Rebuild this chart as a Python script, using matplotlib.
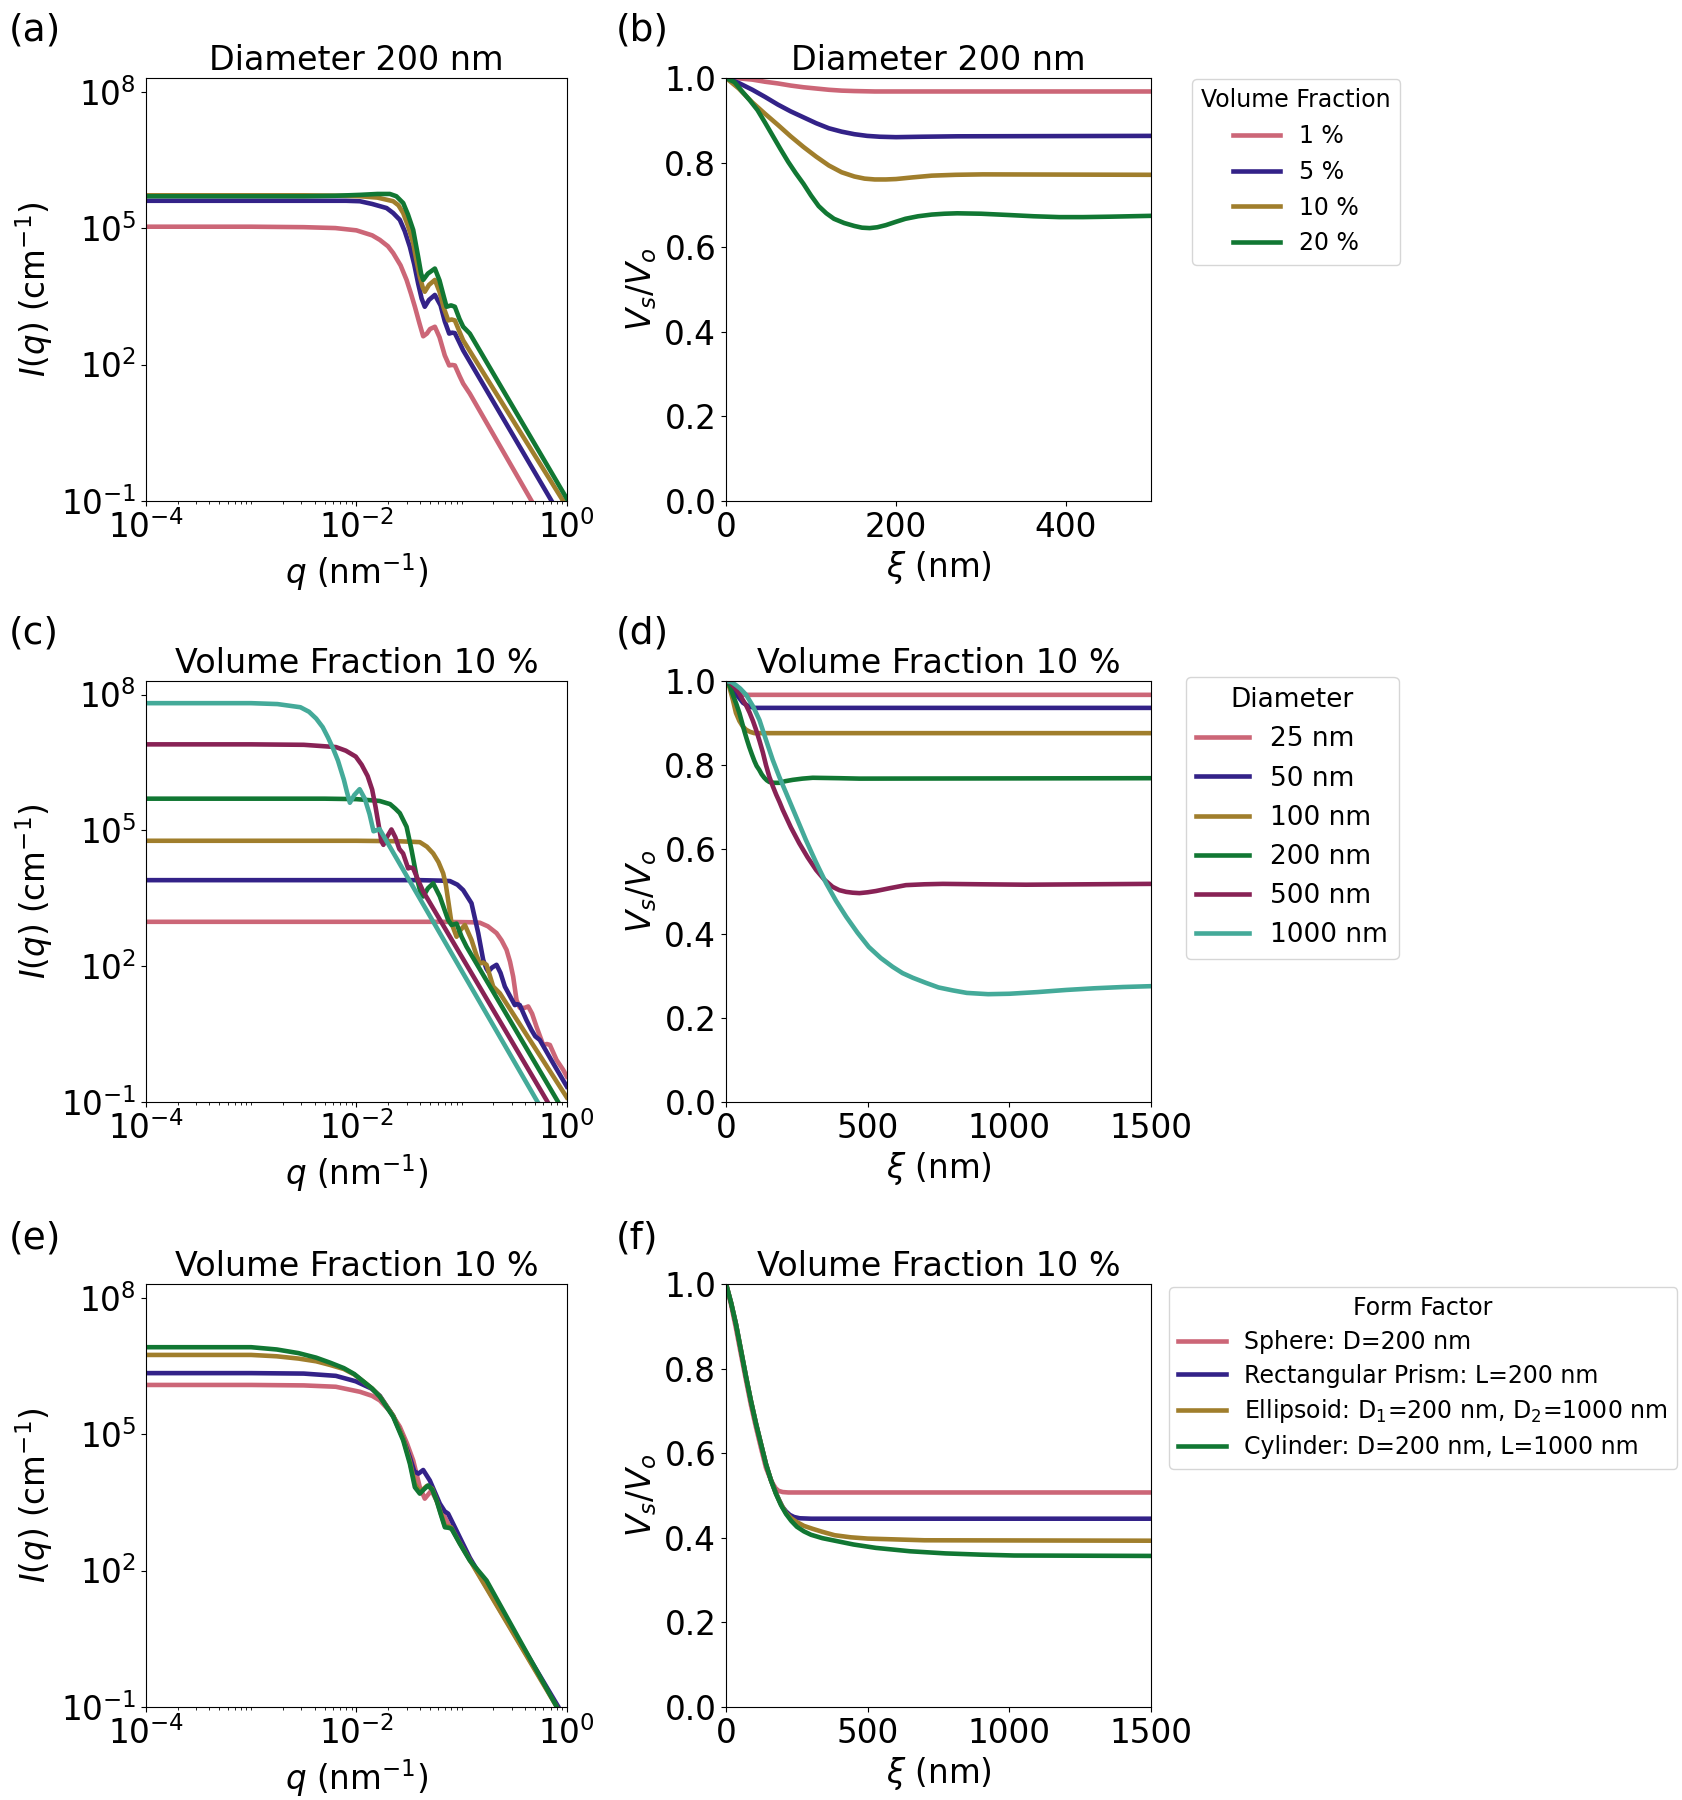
import matplotlib
matplotlib.use('Agg')
import matplotlib.pyplot as plt
import matplotlib.ticker as mticker
import numpy as np

plt.rcParams['font.family'] = 'DejaVu Sans'
plt.rcParams['font.size'] = 23.5

c_pink = '#CC6677'
c_blue = '#332288'
c_gold = '#A07E2C'
c_green = '#117733'
c_wine = '#882255'
c_teal = '#44AA99'

# ---- (a) I(q), diameter 200 nm, values as log10(q), log10(I)
a_pink_q = [-4.0, -3.0, -2.5, -2.2, -2.0, -1.85, -1.777, -1.7, -1.65, -1.58, -1.523, -1.48, -1.444, -1.40, -1.365, -1.33, -1.30, -1.254, -1.21, -1.16, -1.118, -1.09, -1.064, -1.02, -0.985, -0.922, -0.335, -0.25]
a_pink_I = [5.03, 5.03, 5.02, 5.0, 4.95, 4.84, 4.74, 4.60, 4.45, 4.18, 3.86, 3.55, 3.27, 2.9, 2.62, 2.68, 2.78, 2.83, 2.6, 2.2, 1.98, 1.99, 1.98, 1.75, 1.58, 1.36, -1.0, -1.35]
a_blue_q = [-4.0, -2.5, -2.1, -1.967, -1.85, -1.713, -1.65, -1.587, -1.54, -1.492, -1.45, -1.413, -1.38, -1.35, -1.31, -1.254, -1.2, -1.16, -1.118, -1.09, -1.064, -1.02, -0.985, -0.145, -0.1]
a_blue_I = [5.6, 5.6, 5.6, 5.59, 5.53, 5.44, 5.33, 5.18, 4.93, 4.59, 4.2, 3.78, 3.45, 3.27, 3.42, 3.53, 3.3, 2.95, 2.68, 2.7, 2.69, 2.48, 2.31, -1.0, -1.18]
a_gold_q = [-4.0, -2.5, -2.1, -1.967, -1.8, -1.65, -1.6, -1.555, -1.51, -1.46, -1.43, -1.397, -1.37, -1.35, -1.31, -1.254, -1.21, -1.17, -1.127, -1.095, -1.064, -1.02, -0.985, -0.035, 0.0]
a_gold_I = [5.72, 5.72, 5.71, 5.70, 5.67, 5.59, 5.5, 5.33, 5.05, 4.67, 4.3, 3.93, 3.7, 3.60, 3.75, 3.86, 3.6, 3.25, 2.97, 2.99, 2.97, 2.72, 2.53, -1.0, -1.14]
a_green_q = [-4.0, -2.5, -2.2, -1.967, -1.8, -1.682, -1.62, -1.555, -1.51, -1.46, -1.413, -1.385, -1.365, -1.32, -1.254, -1.21, -1.17, -1.143, -1.1, -1.064, -1.02, -0.985, -0.922, 0.0]
a_green_I = [5.70, 5.70, 5.71, 5.73, 5.75, 5.75, 5.70, 5.55, 5.3, 4.96, 4.37, 4.0, 3.86, 4.0, 4.11, 3.85, 3.5, 3.27, 3.3, 3.27, 3.0, 2.83, 2.68, -0.95]

# ---- (b) Vs/Vo vs xi (nm)
b_pink_x = [0, 15, 31, 46, 61, 76, 91, 106, 121, 136, 151, 175, 200, 500]
b_pink_y = [1.0, 0.999, 0.996, 0.991, 0.987, 0.982, 0.978, 0.975, 0.972, 0.970, 0.969, 0.968, 0.968, 0.968]
b_blue_x = [0, 15, 31, 46, 61, 76, 91, 106, 121, 136, 151, 166, 181, 200, 230, 272, 500]
b_blue_y = [1.0, 0.988, 0.972, 0.955, 0.937, 0.921, 0.907, 0.893, 0.881, 0.873, 0.867, 0.863, 0.861, 0.860, 0.861, 0.862, 0.863]
b_gold_x = [0, 15, 31, 46, 61, 76, 91, 106, 121, 136, 151, 163, 175, 188, 200, 220, 242, 270, 302, 500]
b_gold_y = [1.0, 0.975, 0.942, 0.915, 0.889, 0.862, 0.837, 0.814, 0.793, 0.777, 0.767, 0.762, 0.760, 0.760, 0.761, 0.765, 0.769, 0.771, 0.772, 0.771]
b_green_x = [0, 10, 19, 28, 37, 46, 55, 64, 73, 82, 91, 100, 109, 118, 127, 139, 151, 160, 169, 178, 188, 200, 211, 226, 242, 257, 272, 300, 332, 362, 392, 420, 452, 500]
b_green_y = [1.0, 0.99, 0.968, 0.947, 0.924, 0.894, 0.863, 0.832, 0.802, 0.775, 0.750, 0.722, 0.697, 0.680, 0.667, 0.657, 0.650, 0.646, 0.645, 0.647, 0.652, 0.660, 0.667, 0.673, 0.677, 0.679, 0.680, 0.679, 0.676, 0.673, 0.671, 0.671, 0.672, 0.674]
vf_labels = ['1 %', '5 %', '10 %', '20 %']

# ---- (c) I(q), volume fraction 10 %
c_pink_q = [-4.0, -3.0, -2.0, -1.2, -0.9, -0.827, -0.75, -0.668, -0.62, -0.573, -0.54, -0.51, -0.478, -0.447, -0.40, -0.367, -0.33, -0.288, -0.225, -0.19, -0.161, -0.098, -0.035, 0.0]
c_pink_I = [2.98, 2.98, 2.98, 2.98, 2.97, 2.96, 2.88, 2.73, 2.57, 2.36, 2.1, 1.77, 1.25, 1.08, 1.08, 1.11, 0.95, 0.66, 0.26, 0.28, 0.26, -0.07, -0.29, -0.44]
c_blue_q = [-4.0, -3.0, -2.0, -1.4, -1.2, -1.111, -1.04, -0.985, -0.906, -0.842, -0.795, -0.765, -0.747, -0.71, -0.668, -0.63, -0.589, -0.494, -0.47, -0.447, -0.384, -0.336, -0.30, -0.257, -0.13, 0.0]
c_blue_I = [3.90, 3.90, 3.90, 3.90, 3.89, 3.88, 3.8, 3.68, 3.39, 2.73, 2.14, 1.95, 1.88, 1.97, 2.03, 1.85, 1.55, 1.14, 1.16, 1.14, 0.81, 0.59, 0.45, 0.37, -0.145, -0.66]
c_gold_q = [-4.0, -3.0, -2.0, -1.6, -1.397, -1.33, -1.27, -1.22, -1.175, -1.15, -1.128, -1.096, -1.048, -1.01, -0.969, -0.906, -0.86, -0.827, -0.795, -0.763, -0.70, -0.636, 0.0]
c_gold_I = [4.77, 4.77, 4.77, 4.76, 4.74, 4.64, 4.49, 4.3, 4.05, 3.8, 3.46, 2.95, 2.65, 2.8, 2.91, 2.58, 2.25, 2.06, 2.08, 2.03, 1.55, 1.40, -0.9]
c_green_q = [-4.0, -3.0, -2.3, -2.0, -1.78, -1.68, -1.63, -1.587, -1.523, -1.476, -1.428, -1.39, -1.365, -1.32, -1.27, -1.207, -1.128, -1.096, -1.048, -1.0, -0.953, -0.07]
c_green_I = [5.70, 5.70, 5.70, 5.69, 5.65, 5.58, 5.48, 5.38, 5.08, 4.57, 3.98, 3.62, 3.54, 3.72, 3.83, 3.54, 3.02, 2.91, 2.94, 2.65, 2.43, -1.05]
c_wine_q = [-4.0, -3.0, -2.5, -2.194, -2.1, -2.006, -1.95, -1.893, -1.85, -1.818, -1.762, -1.743, -1.71, -1.667, -1.63, -1.592, -1.556, -1.508, -1.485, -1.46, -1.413, -1.365, -0.193, -0.12]
c_wine_I = [6.90, 6.90, 6.89, 6.84, 6.76, 6.63, 6.45, 6.20, 5.9, 5.52, 4.76, 4.68, 4.85, 5.02, 4.85, 4.59, 4.49, 4.16, 4.18, 4.16, 3.90, 3.65, -0.96, -1.25]
c_teal_q = [-4.0, -3.0, -2.75, -2.532, -2.45, -2.382, -2.32, -2.269, -2.22, -2.175, -2.119, -2.09, -2.062, -2.02, -1.969, -1.92, -1.875, -1.837, -1.81, -1.78, -1.71, -0.288, -0.2]
c_teal_I = [7.81, 7.81, 7.79, 7.72, 7.62, 7.47, 7.28, 7.05, 6.8, 6.54, 6.12, 5.85, 5.61, 5.78, 5.91, 5.7, 5.36, 4.98, 5.0, 5.03, 4.75, -0.96, -1.3]

# ---- (d) Vs/Vo vs xi, volume fraction 10 %
d_pink_x = [0, 10, 20, 30, 40, 1500]
d_pink_y = [1.0, 0.99, 0.978, 0.969, 0.967, 0.967]
d_blue_x = [0, 20, 40, 60, 80, 100, 1500]
d_blue_y = [1.0, 0.985, 0.965, 0.948, 0.94, 0.936, 0.936]
d_gold_x = [0, 12, 24, 35, 47, 59, 71, 85, 100, 1500]
d_gold_y = [1.0, 0.985, 0.955, 0.924, 0.905, 0.892, 0.884, 0.879, 0.876, 0.876]
d_green_x = [0, 12, 25, 36, 47, 56, 65, 73, 82, 91, 100, 108, 117, 126, 135, 144, 153, 170, 188, 210, 235, 270, 306, 400, 471, 1500]
d_green_y = [1.0, 0.99, 0.965, 0.946, 0.924, 0.902, 0.88, 0.862, 0.843, 0.826, 0.81, 0.798, 0.789, 0.778, 0.77, 0.764, 0.760, 0.758, 0.758, 0.762, 0.765, 0.768, 0.770, 0.769, 0.768, 0.769]
d_wine_x = [0, 15, 30, 45, 59, 71, 83, 95, 106, 118, 130, 141, 153, 165, 177, 189, 200, 229, 258, 288, 318, 347, 376, 400, 424, 447, 471, 500, 529, 580, 635, 700, 765, 900, 1059, 1500]
d_wine_y = [1.0, 0.996, 0.985, 0.972, 0.955, 0.942, 0.925, 0.905, 0.884, 0.858, 0.83, 0.80, 0.772, 0.75, 0.73, 0.712, 0.694, 0.652, 0.615, 0.581, 0.551, 0.528, 0.511, 0.503, 0.499, 0.497, 0.496, 0.498, 0.501, 0.508, 0.515, 0.517, 0.518, 0.517, 0.516, 0.518]
d_teal_x = [0, 20, 35, 50, 71, 95, 118, 140, 165, 188, 212, 247, 282, 317, 353, 388, 424, 464, 504, 546, 588, 623, 659, 705, 750, 800, 850, 925, 1000, 1100, 1200, 1300, 1400, 1500]
d_teal_y = [1.0, 0.997, 0.99, 0.982, 0.967, 0.94, 0.907, 0.862, 0.812, 0.772, 0.734, 0.678, 0.622, 0.570, 0.520, 0.478, 0.44, 0.402, 0.368, 0.342, 0.321, 0.306, 0.295, 0.283, 0.272, 0.265, 0.259, 0.256, 0.257, 0.261, 0.266, 0.270, 0.273, 0.275]
diam_labels = ['25 nm', '50 nm', '100 nm', '200 nm', '500 nm', '1000 nm']

# ---- (e) I(q), form factors
e_pink_q = [-4.0, -3.0, -2.5, -2.195, -1.967, -1.85, -1.777, -1.68, -1.587, -1.52, -1.46, -1.397, -1.35, -1.286, -1.207, -1.112, -1.048, -0.922, -0.09, -0.05]
e_pink_I = [6.08, 6.08, 6.07, 6.04, 5.93, 5.84, 5.74, 5.5, 5.16, 4.8, 4.42, 3.83, 3.58, 3.76, 3.39, 2.95, 2.81, 2.25, -1.0, -1.2]
e_blue_q = [-4.0, -3.0, -2.5, -2.195, -2.006, -1.856, -1.777, -1.65, -1.555, -1.492, -1.45, -1.41, -1.365, -1.302, -1.207, -1.16, -1.128, -1.064, -0.922, -0.08, -0.04]
e_blue_I = [6.34, 6.34, 6.33, 6.28, 6.16, 6.0, 5.84, 5.4, 4.9, 4.49, 4.18, 4.13, 4.21, 3.98, 3.47, 3.3, 3.25, 2.95, 2.28, -1.0, -1.2]
e_gold_q = [-4.0, -3.0, -2.757, -2.55, -2.382, -2.25, -2.119, -2.02, -1.93, -1.85, -1.777, -1.65, -1.555, -1.492, -1.444, -1.397, -1.33, -1.28, -1.238, -1.159, -1.1, -1.017, -0.922, -0.095, -0.05]
e_gold_I = [6.74, 6.74, 6.71, 6.66, 6.60, 6.52, 6.43, 6.31, 6.15, 6.0, 5.83, 5.4, 4.9, 4.4, 3.9, 3.72, 3.86, 3.8, 3.55, 2.98, 2.95, 2.6, 2.23, -1.0, -1.2]
e_green_q = [-4.0, -3.0, -2.757, -2.55, -2.382, -2.25, -2.119, -2.02, -1.93, -1.85, -1.777, -1.65, -1.555, -1.492, -1.444, -1.397, -1.36, -1.318, -1.28, -1.238, -1.2, -1.159, -1.125, -1.096, -1.017, -0.922, -0.763, -0.095, -0.05]
e_green_I = [6.91, 6.91, 6.86, 6.78, 6.68, 6.57, 6.45, 6.32, 6.15, 6.0, 5.82, 5.38, 4.86, 4.35, 3.83, 3.69, 3.78, 3.87, 3.78, 3.54, 3.25, 2.95, 2.94, 2.92, 2.59, 2.22, 1.78, -1.0, -1.2]

# ---- (f) Vs/Vo vs xi, form factors
f_pink_x = [0, 18, 35, 53, 71, 88, 106, 124, 141, 153, 165, 175, 185, 200, 220, 1500]
f_pink_y = [1.0, 0.95, 0.895, 0.832, 0.77, 0.713, 0.66, 0.61, 0.565, 0.545, 0.528, 0.517, 0.511, 0.508, 0.507, 0.507]
f_blue_x = [0, 18, 35, 53, 71, 88, 106, 124, 141, 159, 176, 188, 200, 212, 225, 240, 260, 300, 1500]
f_blue_y = [1.0, 0.955, 0.905, 0.842, 0.779, 0.723, 0.669, 0.62, 0.574, 0.535, 0.506, 0.488, 0.472, 0.462, 0.454, 0.449, 0.446, 0.445, 0.445]
f_gold_x = [0, 18, 35, 53, 71, 88, 106, 124, 141, 159, 176, 194, 212, 230, 250, 275, 306, 340, 383, 440, 500, 600, 700, 1500]
f_gold_y = [1.0, 0.955, 0.905, 0.842, 0.779, 0.723, 0.669, 0.62, 0.574, 0.535, 0.505, 0.479, 0.458, 0.446, 0.437, 0.428, 0.421, 0.414, 0.406, 0.401, 0.398, 0.396, 0.394, 0.393]
f_green_x = [0, 18, 35, 53, 71, 88, 106, 124, 141, 159, 176, 194, 212, 230, 250, 275, 300, 340, 384, 450, 529, 650, 774, 900, 1017, 1500]
f_green_y = [1.0, 0.955, 0.905, 0.842, 0.779, 0.723, 0.669, 0.62, 0.574, 0.535, 0.504, 0.477, 0.456, 0.44, 0.426, 0.415, 0.407, 0.399, 0.393, 0.384, 0.376, 0.368, 0.363, 0.36, 0.358, 0.357]
ff_labels = ['Sphere: D=200 nm', 'Rectangular Prism: L=200 nm',
             'Ellipsoid: D$_1$=200 nm, D$_2$=1000 nm', 'Cylinder: D=200 nm, L=1000 nm']

lw = 3.3
fig = plt.figure(figsize=(16.83, 18), dpi=100)

# axes boxes [left, bottom, width, height]
lx, lw_ax = 0.0867, 0.2501
rx, rw_ax = 0.4314, 0.2525
rows = [(0.7217, 0.2350), (0.3878, 0.2339), (0.0517, 0.2350)]


def iq_axes(box, title):
    ax = fig.add_axes(box)
    ax.set_xscale('log')
    ax.set_yscale('log')
    ax.set_xlim(1e-4, 1)
    ax.set_ylim(1e-1, 2e8)
    ax.set_xticks([1e-4, 1e-2, 1e0])
    ax.xaxis.set_minor_locator(mticker.LogLocator(base=10, subs=np.arange(1, 10), numticks=50))
    ax.xaxis.set_minor_formatter(mticker.NullFormatter())
    ax.set_yticks([1e-1, 1e2, 1e5, 1e8])
    ax.yaxis.set_minor_locator(mticker.NullLocator())
    ax.set_title(title, fontsize=24)
    ax.set_xlabel(r'$q$ (nm$^{-1}$)')
    ax.set_ylabel(r'$I(q)$ (cm$^{-1}$)')
    return ax


def v_axes(box, title, xmax, xticks):
    ax = fig.add_axes(box)
    ax.set_xlim(0, xmax)
    ax.set_ylim(0, 1)
    ax.set_xticks(xticks)
    ax.set_yticks([0.0, 0.2, 0.4, 0.6, 0.8, 1.0])
    ax.set_title(title, fontsize=24)
    ax.set_xlabel(r'$\xi$ (nm)')
    ax.set_ylabel(r'$V_s/V_o$')
    return ax


def logplot(ax, q, I, color):
    ax.plot(10.0 ** np.array(q), 10.0 ** np.array(I), color=color, lw=lw)


# (a)
ax = iq_axes([lx, rows[0][0], lw_ax, rows[0][1]], 'Diameter 200 nm')
logplot(ax, a_pink_q, a_pink_I, c_pink)
logplot(ax, a_blue_q, a_blue_I, c_blue)
logplot(ax, a_gold_q, a_gold_I, c_gold)
logplot(ax, a_green_q, a_green_I, c_green)

# (b)
ax = v_axes([rx, rows[0][0], rw_ax, rows[0][1]], 'Diameter 200 nm', 500, [0, 200, 400])
for x, y, c, lab in zip([b_pink_x, b_blue_x, b_gold_x, b_green_x],
                        [b_pink_y, b_blue_y, b_gold_y, b_green_y],
                        [c_pink, c_blue, c_gold, c_green], vf_labels):
    ax.plot(x, y, color=c, lw=lw, label=lab)
ax.legend(title='Volume Fraction', fontsize=17, title_fontsize=17,
          loc='upper left', bbox_to_anchor=(1.096, 0.998), borderaxespad=0)

# (c)
ax = iq_axes([lx, rows[1][0], lw_ax, rows[1][1]], 'Volume Fraction 10 %')
logplot(ax, c_pink_q, c_pink_I, c_pink)
logplot(ax, c_blue_q, c_blue_I, c_blue)
logplot(ax, c_gold_q, c_gold_I, c_gold)
logplot(ax, c_green_q, c_green_I, c_green)
logplot(ax, c_wine_q, c_wine_I, c_wine)
logplot(ax, c_teal_q, c_teal_I, c_teal)

# (d)
ax = v_axes([rx, rows[1][0], rw_ax, rows[1][1]], 'Volume Fraction 10 %', 1500, [0, 500, 1000, 1500])
for x, y, c, lab in zip([d_pink_x, d_blue_x, d_gold_x, d_green_x, d_wine_x, d_teal_x],
                        [d_pink_y, d_blue_y, d_gold_y, d_green_y, d_wine_y, d_teal_y],
                        [c_pink, c_blue, c_gold, c_green, c_wine, c_teal], diam_labels):
    ax.plot(x, y, color=c, lw=lw, label=lab)
ax.legend(title='Diameter', fontsize=19, title_fontsize=19,
          loc='upper left', bbox_to_anchor=(1.082, 1.01), borderaxespad=0)

# (e)
ax = iq_axes([lx, rows[2][0], lw_ax, rows[2][1]], 'Volume Fraction 10 %')
logplot(ax, e_pink_q, e_pink_I, c_pink)
logplot(ax, e_blue_q, e_blue_I, c_blue)
logplot(ax, e_gold_q, e_gold_I, c_gold)
logplot(ax, e_green_q, e_green_I, c_green)

# (f)
ax = v_axes([rx, rows[2][0], rw_ax, rows[2][1]], 'Volume Fraction 10 %', 1500, [0, 500, 1000, 1500])
for x, y, c, lab in zip([f_pink_x, f_blue_x, f_gold_x, f_green_x],
                        [f_pink_y, f_blue_y, f_gold_y, f_green_y],
                        [c_pink, c_blue, c_gold, c_green], ff_labels):
    ax.plot(x, y, color=c, lw=lw, label=lab)
ax.legend(title='Form Factor', fontsize=17, title_fontsize=17, labelspacing=0.41,
          loc='upper left', bbox_to_anchor=(1.042, 0.993), borderaxespad=0)

# panel letters
for lab, x, y in [('(a)', 0.005, 0.983), ('(b)', 0.366, 0.983),
                  ('(c)', 0.005, 0.648), ('(d)', 0.366, 0.648),
                  ('(e)', 0.005, 0.312), ('(f)', 0.366, 0.312)]:
    fig.text(x, y, lab, fontsize=27, va='center', ha='left')

fig.savefig('out.png', dpi=100)
